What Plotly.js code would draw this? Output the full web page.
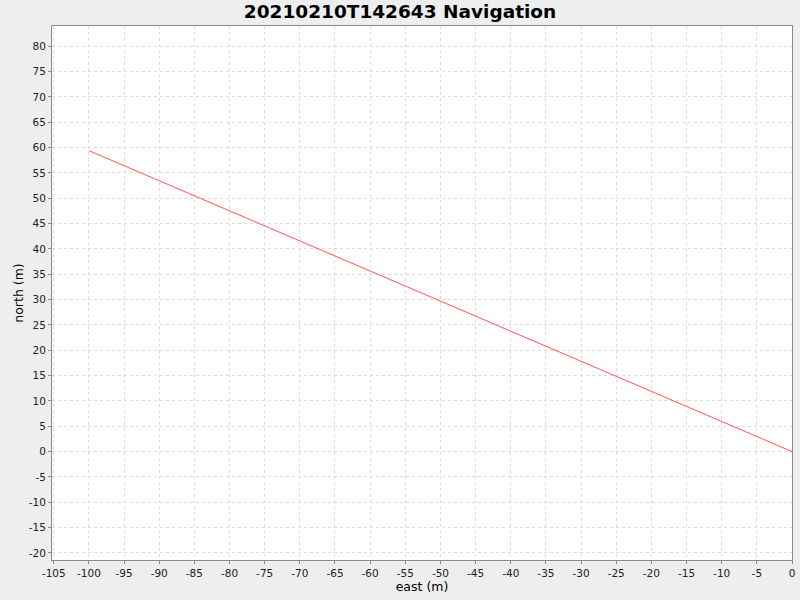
<!DOCTYPE html>
<html>
<head>
<meta charset="utf-8">
<script src="https://cdn.plot.ly/plotly-3.0.1.min.js"></script>
<style>html,body{margin:0;padding:0;background:#eeeeee;}#chart{width:800px;height:600px;}</style>
</head>
<body>
<div id="chart"></div>
<script>
const titleText = "20210210T142643 Navigation";
const eastValues = [-100, 0];
const northValues = [59.4, 0];
const xTickVals = [-105,-100,-95,-90,-85,-80,-75,-70,-65,-60,-55,-50,-45,-40,-35,-30,-25,-20,-15,-10,-5,0];
const yTickVals = [-20,-15,-10,-5,0,5,10,15,20,25,30,35,40,45,50,55,60,65,70,75,80];

const trace = {
  x: eastValues,
  y: northValues,
  type: "scatter",
  mode: "lines",
  line: {color: "#ff5555", width: 1},
  hoverinfo: "none"
};

const axisCommon = {
  showgrid: true,
  gridcolor: "#dcdcdc",
  griddash: "3px,3px",
  gridwidth: 1,
  zeroline: false,
  showline: true,
  linecolor: "#8a8a8a",
  linewidth: 1,
  mirror: true,
  ticks: "outside",
  ticklen: 3,
  tickcolor: "#8a8a8a",
  tickfont: {family: "DejaVu Sans", size: 10.5, color: "#222"},
  tickmode: "array"
};

const layout = {
  width: 800, height: 600,
  paper_bgcolor: "#eeeeee",
  plot_bgcolor: "#ffffff",
  showlegend: false,
  margin: {l: 52, r: 8, t: 26, b: 40},
  title: {text: "<b>" + titleText + "</b>", font: {family: "DejaVu Sans", size: 18.5, color: "#000"}, x: 0.5, xanchor: "center", xref: "container", y: 0.98, yanchor: "middle", yref: "container"},
  xaxis: Object.assign({}, axisCommon, {
    range: [-105.25, 0],
    tickvals: xTickVals,
    ticktext: xTickVals.map(String),
    title: {text: "east (m)", font: {family: "DejaVu Sans", size: 12.5, color: "#000"}, standoff: 3}
  }),
  yaxis: Object.assign({}, axisCommon, {
    range: [-21.4, 84.0],
    tickvals: yTickVals,
    ticktext: yTickVals.map(String),
    title: {text: "north (m)", font: {family: "DejaVu Sans", size: 12.5, color: "#000"}, standoff: 2}
  })
};

Plotly.newPlot("chart", [trace], layout, {displayModeBar: false, staticPlot: true});
</script>
</body>
</html>
